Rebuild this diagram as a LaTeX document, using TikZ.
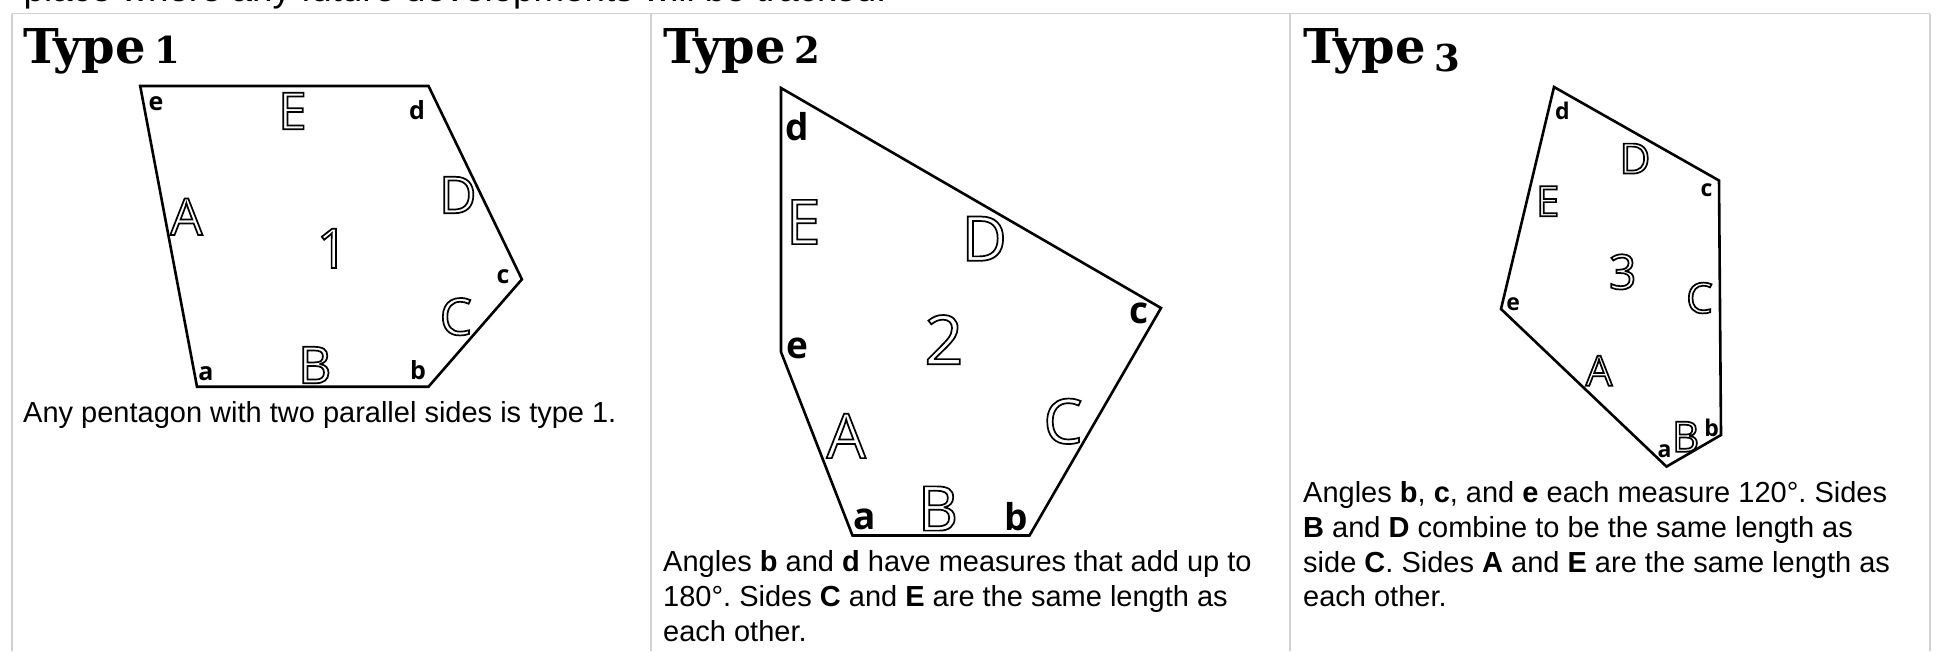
\documentclass[tikz,border=0pt]{standalone}
\usepackage{fontspec}
\setmainfont{Liberation Sans}
\newfontfamily\slabfont{DejaVu Serif}
\newfontfamily\labelfont{Open Sans}
\frenchspacing
\makeatletter
\newcommand{\Hollow}[1]%
% text, drawn as outline only
{   \pgfsys@invoke{1 Tr 1.7 w}#1\pgfsys@invoke{0 Tr}}
\makeatother
\newcommand{\Title}[2]%
% number, lowering of the number
{   \bfseries Type\hspace{9pt}\fontsize{37}{37}\selectfont\raisebox{-#2pt}{#1}}

\begin{document}
\begin{tikzpicture}
[   x=1pt, y=-1pt,
    tableline/.style={draw=black!18, line width=1.5pt},
    tile/.style={draw, line width=2.6pt, line join=miter},
    heading/.style={anchor=base west, inner sep=0, font=\slabfont\fontsize{48}{48}\selectfont},
    caption/.style={anchor=base west, inner sep=0, align=left, font=\fontsize{29}{34.7}\selectfont},
    cornerlabel/.style={inner sep=0, font=\labelfont\bfseries\fontsize{#1}{#1}\selectfont},
    sidelabel/.style={inner sep=0, font=\labelfont\fontsize{#1}{#1}\selectfont}
]
    \useasboundingbox (0,0) rectangle (1941,651);
    \node[caption, font=\fontsize{36.7}{40}\selectfont] (intro) at (23.5,1.5)
        {place where any future developments will be tracked.};

    % table
    \draw[tableline] (12,13.5) -- (1930,13.5);
    \foreach \x in {12,651,1290,1930}
    {   \draw[tableline] (\x,13.5) -- (\x,651);
    }

    % type 1
    \node[heading] (one-title) at (23.3,63.3) {\Title{1}{0}};
    \foreach \v/\x/\y in {a/197/386.7, b/428.5/386.7, c/521.9/279.3, d/428.5/86, e/140.2/86}
    {   \coordinate (one-\v) at (\x,\y);
    }
    \draw[tile] (one-a) -- (one-b) -- (one-c) -- (one-d) -- (one-e) -- cycle;
    \foreach \t/\x/\y in {a/206/374, b/418/370, c/503/277, d/417/110, e/156/104}
    {   \node[cornerlabel=25] (one-\t-lbl) at (\x,\y) {\t};
    }
    \foreach \t/\x/\y in {A/186.4/216.7, B/314.8/365, C/455.8/316.7, D/457.9/195, E/292.5/111}
    {   \node[sidelabel=51] (one-\t-side) at (\x,\y) {\Hollow{\t}};
    }
    \node[sidelabel=55] (one-num) at (332.5,248.3) {\Hollow{1}};
    \node[caption] (one-text) at (23,422.7)
        {Any pentagon with two parallel sides is type 1.};

    % type 2
    \node[heading] (two-title) at (663,63.3) {\Title{2}{0}};
    \foreach \v/\x/\y in {a/852.5/535.5, b/1029.5/535.5, c/1161/308, d/781/88, e/781/352}
    {   \coordinate (two-\v) at (\x,\y);
    }
    \draw[tile] (two-a) -- (two-b) -- (two-c) -- (two-d) -- (two-e) -- cycle;
    \foreach \t/\x/\y in {a/865/519.7, b/1015.8/516.8, c/1138.7/313.4, d/797/126.6, e/797/348.7}
    {   \node[cornerlabel=37] (two-\t-lbl) at (\x,\y) {\t};
    }
    \foreach \t/\x/\y in {A/846.2/435.9, B/938/508.5, C/1063/421.3, D/984.3/238.7, E/803.3/222}
    {   \node[sidelabel=62] (two-\t-side) at (\x,\y) {\Hollow{\t}};
    }
    \node[sidelabel=68] (two-num) at (943.9,339.6) {\Hollow{2}};
    % base of a node with lines is the last line
    \node[caption] (two-text) at (663,641.3)
        {Angles \textbf{b} and \textbf{d} have measures that add up to\\
         180°. Sides \textbf{C} and \textbf{E} are the same length as\\
         each other.};

    % type 3
    \node[heading] (three-title) at (1303,63.3) {\Title{3}{8}};
    \foreach \v/\x/\y in {a/1666.5/466.6, b/1721/435, c/1719/180.5, d/1554/87, e/1501/309}
    {   \coordinate (three-\v) at (\x,\y);
    }
    \draw[tile] (three-a) -- (three-b) -- (three-c) -- (three-d) -- (three-e) -- cycle;
    \foreach \t/\x/\y in {a/1664.5/451.6, b/1711.7/427.6, c/1706.6/190.1, d/1562.5/111.2, e/1513.1/303.9}
    {   \node[cornerlabel=23] (three-\t-lbl) at (\x,\y) {\t};
    }
    \foreach \t/\x/\y in {A/1599/370.7, B/1685.6/436.7, C/1699.5/298, D/1635/158.6, E/1547.7/201.3}
    {   \node[sidelabel=42] (three-\t-side) at (\x,\y) {\Hollow{\t}};
    }
    \node[sidelabel=48] (three-num) at (1622.7,271.9) {\Hollow{3}};
    \node[caption] (three-text) at (1303,606.9)
        {Angles \textbf{b}, \textbf{c}, and \textbf{e} each measure 120°. Sides\\
         \textbf{B} and \textbf{D} combine to be the same length as\\
         side \textbf{C}. Sides \textbf{A} and \textbf{E} are the same length as\\
         each other.};
\end{tikzpicture}
\end{document}
